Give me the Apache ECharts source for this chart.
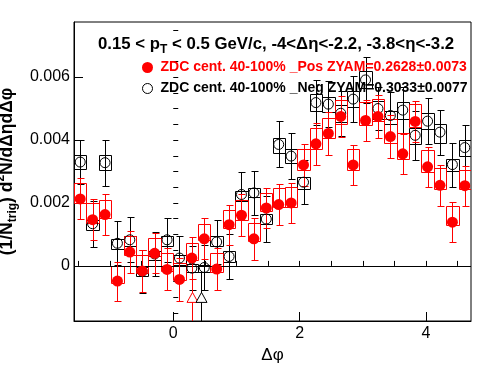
<!DOCTYPE html>
<html><head><meta charset="utf-8">
<script src="https://cdn.jsdelivr.net/npm/echarts@6/dist/echarts.min.js"></script>
<style>html,body{margin:0;padding:0;background:#fff}#c{width:496px;height:374px}</style>
</head><body><div id="c"></div>
<script>
// ---- data (y values in units of 1e-3) ----
const dphi = [-1.4726,-1.2763,-1.0799,-0.8836,-0.6872,-0.4909,-0.2945,-0.0982,0.0982,0.2945,0.4909,0.6872,0.8836,1.0799,1.2763,1.4726,1.6690,1.8653,2.0617,2.2580,2.4544,2.6507,2.8471,3.0434,3.2398,3.4361,3.6325,3.8288,4.0252,4.2215,4.4179,4.6142];
const posVal = [2.13,1.47,1.63,-0.48,0.44,-0.16,0.40,-0.11,-0.43,0.25,0.86,-0.10,1.31,1.61,0.86,1.84,1.95,2.00,3.21,3.88,4.21,4.75,3.21,4.62,4.75,4.11,3.56,4.59,3.15,2.56,1.39,2.55];
const posErr = [0.65,0.65,0.65,0.62,0.66,0.68,0.64,0.67,0.67,0.67,0.65,0.67,0.64,0.67,0.67,0.64,0.64,0.64,0.66,0.66,0.67,0.65,0.64,0.66,0.68,0.68,0.64,0.66,0.64,0.65,0.64,0.64];
const posSysLo = [2.00,1.36,1.52,-0.55,0.35,-0.21,0.30,-0.16,-0.45,0.19,0.83,-0.18,1.20,1.47,0.78,1.76,1.86,1.88,3.06,3.72,4.08,4.52,3.06,4.47,4.62,3.91,3.40,4.42,2.99,2.44,1.31,2.43];
const posSysHi = [2.64,2.00,2.11,0.00,0.94,0.35,0.88,0.40,0.09,0.72,1.33,0.40,1.77,2.11,1.36,2.32,2.48,2.50,3.72,4.39,4.71,5.28,3.72,5.20,5.30,4.66,4.22,5.14,3.68,3.12,1.89,3.06];
const negVal = [3.30,1.34,3.28,0.72,0.83,-0.17,0.38,0.83,0.25,-0.07,-0.05,0.76,0.30,2.27,2.32,1.49,3.86,3.49,2.66,5.19,5.14,4.85,5.30,5.91,5.00,4.78,4.95,4.15,4.60,4.25,3.22,3.76];
const negErr = [0.69,0.73,0.73,0.70,0.71,0.69,0.69,0.70,0.70,0.70,0.70,0.70,0.70,0.70,0.69,0.72,0.73,0.74,0.70,0.72,0.72,0.72,0.72,0.72,0.69,0.75,0.72,0.77,0.72,0.71,0.70,0.72];
const negSysLo = [3.09,1.15,3.06,0.53,0.64,-0.32,0.19,0.62,0.03,-0.20,-0.18,0.62,0.12,2.05,2.19,1.34,3.60,3.28,2.43,4.92,4.90,4.58,5.05,5.65,4.68,4.50,4.66,3.86,4.34,3.92,3.01,3.49];
const negSysHi = [3.54,1.47,3.51,0.85,0.96,-0.02,0.46,0.94,0.35,0.05,0.02,0.94,0.46,2.39,2.48,1.66,4.05,3.70,2.83,5.46,5.38,5.10,5.55,6.20,5.24,4.93,5.22,4.39,4.87,4.50,3.41,3.99];
// off-scale markers (open triangles with line to the bottom)
const arrowX = [0.2945, 0.432];
const arrowY = [-1.00, -1.00];
const arrowTop = [-0.42, -0.19];
const arrowColors = ['#ff0000', '#000000'];
// axes
const xMin = -Math.PI / 2, xMax = 1.5 * Math.PI;
const yMin = -0.00175, yMax = 0.00775;
const xTicks = [0, 2, 4];
const yTicks = [0, 0.002, 0.004, 0.006];
const seriesNames = ['ZDC cent. 40-100% _Pos ZYAM=0.2628\u00b10.0073', 'ZDC cent. 40-100% _Neg ZYAM=0.3033\u00b10.0077'];
const S = 1e-3;

const FONT = 'Liberation Sans, Arial, Helvetica, sans-serif';
const hw = (dphi[1] - dphi[0]) / 2;
const xMinor = [], yMinor = [];
for (let v = -1.5; v <= 4.5 + 1e-9; v += 0.5) xMinor.push(+v.toFixed(2));
for (let v = -0.0015; v <= 0.0075 + 1e-9; v += 0.0005) yMinor.push(+v.toFixed(4));

function boxSeries(lo, hi, color, z) {
  return {
    type: 'custom', z: z, clip: true, silent: true,
    data: dphi.map((x, i) => [x, lo[i] * S, hi[i] * S]),
    renderItem(params, api) {
      const x = api.value(0), l = api.value(1), h = api.value(2);
      const a = api.coord([x - hw, h]), b = api.coord([x + hw, l]);
      const x0 = Math.round(a[0]) + 0.5, x1 = Math.round(b[0]) + 0.5;
      const y0 = Math.round(a[1]) + 0.5, y1 = Math.round(b[1]) + 0.5;
      return { type: 'polygon', shape: { points: [[x0, y0], [x1, y0], [x1, y1], [x0, y1]] },
        style: { fill: 'none', stroke: color, lineWidth: 1 } };
    }
  };
}
function errSeries(vals, errs, color, z) {
  return {
    type: 'custom', z: z, clip: true, silent: true,
    data: dphi.map((x, i) => [x, vals[i] * S, errs[i] * S]),
    renderItem(params, api) {
      const x = api.value(0), v = api.value(1), e = api.value(2);
      const t = api.coord([x, v + e]), b = api.coord([x, v - e]);
      const cx = Math.round(t[0]) + 0.5;
      const ty = Math.round(t[1]) + 0.5, by = Math.round(b[1]) + 0.5;
      const st = { stroke: color, lineWidth: 1 };
      return { type: 'group', children: [
        { type: 'line', shape: { x1: cx, y1: ty, x2: cx, y2: by }, style: st },
        { type: 'line', shape: { x1: cx - 3, y1: ty, x2: cx + 4, y2: ty }, style: st },
        { type: 'line', shape: { x1: cx - 3, y1: by, x2: cx + 4, y2: by }, style: st }
      ] };
    }
  };
}

const chart = echarts.init(document.getElementById('c'), null, { renderer: 'canvas' });
chart.setOption({
  animation: false,
  backgroundColor: '#fff',
  textStyle: { fontFamily: FONT },
  grid: { left: 74, right: 25, top: 22, bottom: 53, containLabel: false, outerBoundsMode: 'none',
    show: true, borderColor: '#000', borderWidth: 1, backgroundColor: 'transparent' },
  title: {
    text: '0.15 < p{s|T} < 0.5 GeV/c, -4<\u0394\u03b7<-2.2, -3.8<\u03b7<-3.2',
    left: 93, top: 27,
    textStyle: { fontSize: 16.8, fontWeight: 'bold', color: '#000', fontFamily: FONT,
      rich: { s: { fontSize: 12, fontWeight: 'bold', color: '#000', fontFamily: FONT, verticalAlign: 'bottom', padding: [12, 0, 0, 0] } } }
  },
  xAxis: [
    { type: 'value', min: xMin, max: xMax, position: 'bottom',
      axisLine: { onZero: false, lineStyle: { color: '#000', width: 1 } },
      splitLine: { show: false },
      axisTick: { inside: true, length: 9, customValues: xTicks, lineStyle: { color: '#000' } },
      axisLabel: { customValues: xTicks, fontSize: 16, color: '#000', fontFamily: FONT, margin: 5 },
      name: '\u0394\u03c6', nameLocation: 'middle', nameGap: 26,
      nameTextStyle: { fontSize: 17, color: '#000', fontFamily: FONT } },
    { type: 'value', min: xMin, max: xMax, position: 'bottom', offset: 0,
      axisLine: { show: false }, splitLine: { show: false },
      axisTick: { inside: true, length: 5, customValues: xMinor, lineStyle: { color: '#000' } },
      axisLabel: { show: false } }
  ],
  yAxis: [
    { type: 'value', min: yMin, max: yMax, position: 'left',
      axisLine: { onZero: false, lineStyle: { color: '#000', width: 1 } },
      splitLine: { show: false },
      axisTick: { inside: true, length: 9, customValues: yTicks, lineStyle: { color: '#000' } },
      axisLabel: { customValues: yTicks, fontSize: 16, color: '#000', fontFamily: FONT, margin: 4,
        formatter: v => (Math.abs(v) < 1e-12 ? '0' : v.toFixed(3)) },
      name: '(1/N{sub|trig}) d{sup|2}N/d\u0394\u03b7d\u0394\u03c6', nameLocation: 'middle', nameRotate: 90, nameGap: 50,
      nameTextStyle: { fontSize: 17.5, fontWeight: 'bold', color: '#000', fontFamily: FONT,
        rich: {
          sub: { fontSize: 12, fontWeight: 'bold', color: '#000', fontFamily: FONT, verticalAlign: 'bottom', padding: [12, 0, 0, 0] },
          sup: { fontSize: 12, fontWeight: 'bold', color: '#000', fontFamily: FONT, verticalAlign: 'top', padding: [0, 0, 8, 0] }
        } } },
    { type: 'value', min: yMin, max: yMax, position: 'left', offset: 0,
      axisLine: { show: false }, splitLine: { show: false },
      axisTick: { inside: true, length: 5, customValues: yMinor, lineStyle: { color: '#000' } },
      axisLabel: { show: false } }
  ],
  series: [
    boxSeries(negSysLo, negSysHi, '#000000', 2),
    errSeries(negVal, negErr, '#000000', 3),
    boxSeries(posSysLo, posSysHi, '#ff0000', 4),
    errSeries(posVal, posErr, '#ff0000', 5),
    { type: 'custom', z: 6, clip: true, silent: true,
      data: arrowX.map((x, i) => [x, arrowY[i] * S, arrowTop[i] * S, i]),
      renderItem(params, api) {
        const x = api.value(0), y = api.value(1), top = api.value(2), c = arrowColors[api.value(3)];
        const p = api.coord([x, y]), t = api.coord([x, top]), b = api.coord([x, yMin]);
        const cx = Math.round(p[0]) + 0.5;
        return { type: 'group', children: [
          { type: 'line', shape: { x1: cx, y1: t[1], x2: cx, y2: b[1] }, style: { stroke: c, lineWidth: 1 } },
          { type: 'polygon', shape: { points: [[cx, p[1] - 5], [cx - 5.5, p[1] + 5], [cx + 5.5, p[1] + 5]] },
            style: { fill: '#fff', stroke: c, lineWidth: 1 } }
        ] };
      } },
    { type: 'scatter', name: seriesNames[1], z: 7, symbol: 'circle', symbolSize: 10,
      itemStyle: { color: 'rgba(255,255,255,0)', borderColor: '#000', borderWidth: 1, opacity: 1 },
      data: dphi.map((x, i) => [x, negVal[i] * S]),
      markLine: { silent: true, symbol: 'none', label: { show: false },
        lineStyle: { color: '#000', type: 'solid', width: 1 }, data: [{ yAxis: 0 }] } },
    { type: 'scatter', name: seriesNames[0], z: 8, symbol: 'circle', symbolSize: 11,
      itemStyle: { color: '#ff0000', opacity: 1 },
      data: dphi.map((x, i) => [x, posVal[i] * S]) }
  ],
  graphic: [
    { type: 'circle', x: 147.5, y: 67.5, shape: { cx: 0, cy: 0, r: 5.5 }, style: { fill: '#ff0000' }, z: 100 },
    { type: 'text', x: 160.5, y: 67.5, z: 100, style: { text: seriesNames[0], fill: '#ff0000', font: 'bold 14px ' + FONT, verticalAlign: 'middle', align: 'left' } },
    { type: 'circle', x: 147.5, y: 88.5, shape: { cx: 0, cy: 0, r: 5 }, style: { fill: 'none', stroke: '#000', lineWidth: 1 }, z: 100 },
    { type: 'text', x: 160.5, y: 88.5, z: 100, style: { text: seriesNames[1], fill: '#000', font: 'bold 14px ' + FONT, verticalAlign: 'middle', align: 'left' } }
  ]
});
</script>
</body></html>
